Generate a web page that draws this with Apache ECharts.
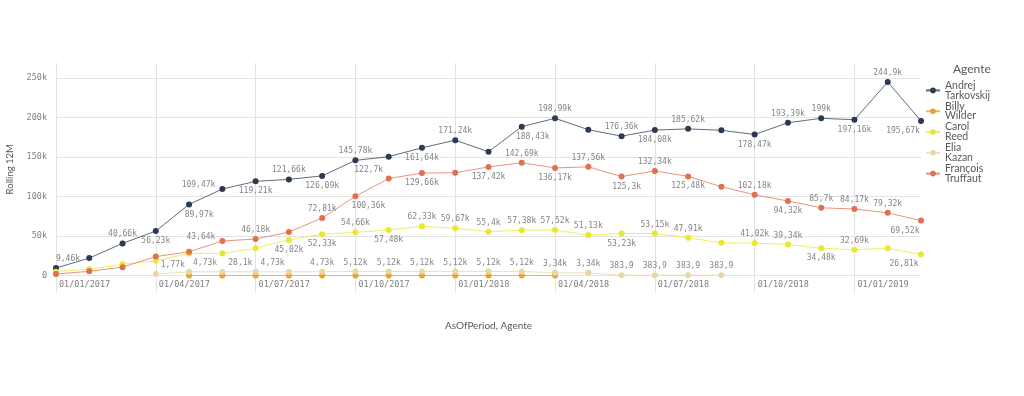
<!DOCTYPE html>
<html>
<head>
<meta charset="utf-8">
<script src="https://cdn.jsdelivr.net/npm/echarts@6/dist/echarts.min.js"></script>
<style>
html,body{margin:0;padding:0;background:#fff;}
#chart{width:1024px;height:396px;}
</style>
</head>
<body>
<div id="chart"></div>
<script>
// ---- data ----
const months = ['01/01/2017','01/02/2017','01/03/2017','01/04/2017','01/05/2017','01/06/2017','01/07/2017','01/08/2017','01/09/2017','01/10/2017','01/11/2017','01/12/2017',
  '01/01/2018','01/02/2018','01/03/2018','01/04/2018','01/05/2018','01/06/2018','01/07/2018','01/08/2018','01/09/2018','01/10/2018','01/11/2018','01/12/2018',
  '01/01/2019','01/02/2019','01/03/2019'];
const seriesNames = ['Andrej Tarkovskij','Billy Wilder','Carol Reed','Elia Kazan','François Truffaut'];
const andrej = [9460,22000,40660,56230,89970,109470,119210,121660,126090,145780,150400,161640,171240,156700,188430,198990,184600,176360,184080,185620,183800,178470,193390,199000,197160,244900,195670];
const billy = [null,null,null,null,0,0,0,0,0,0,0,0,0,0,0,0,null,null,null,null,null,null,null,null,null,null,null];
const carol = [4900,8000,14200,18800,27900,28100,34400,45020,52330,54660,57480,62330,59670,55400,57380,57520,51130,53230,53150,47910,41300,41020,39340,34480,32690,34400,26810];
const elia = [null,null,null,1770,4730,4730,4730,4730,4730,5120,5120,5120,5120,5120,5120,3340,3340,383.9,383.9,383.9,383.9,null,null,null,null,null,null];
const francois = [1900,5300,10600,24000,30000,43640,46180,55000,72810,100360,122700,129660,130100,137420,142690,136170,137560,125300,132340,125480,112400,102180,94320,85700,84170,79320,69520];
const yTicks = [0,50000,100000,150000,200000,250000];

// ---- label placement (style only) ----
const andrejLabels = ['t+12','','t','b','b+10','l','b','t','b','t','','b','t','','b+11','t','','t','b','t','','b','t','t','b','t','b-18'];
const billyLabels = [];
const carolLabels = ['','','','','','b+18','','b','b','t','b','t','t','t','t','t','t','b','t','t','','t','t','b','t','','b-17'];
const eliaLabels = ['','','','t+17','t+16','','t+17','','t','t','t','t','t','t','t','t','t','t','t','t','t','','','','','',''];
const francoisLabels = ['','','','','','l','t','','t','b+13','t-20','b','','b','t','b','t','b+5','t','b','','t','b','t','t','t','b-16'];

const colors = ['#2b3a50','#eba32a','#e9e634','#e8d7a6','#e0704e'];

function fmt(v){
  if (v === null || v === undefined) return '';
  if (Math.abs(v) >= 1000) {
    let s = (Math.round(v/10)/100).toString();
    return s.replace('.', ',') + 'k';
  }
  return v.toString().replace('.', ',');
}
function axisFmt(v){
  if (v === 0) return '0';
  return (v/1000) + 'k';
}
function buildData(values, placements){
  return values.map((v,i)=>{
    const p = placements[i] || '';
    if (!p || v === null) return v;
    const m = p.match(/^([tbl])([+-]\d+)?$/);
    const dx = m[2] ? parseInt(m[2],10) : 0;
    let label;
    if (m[1] === 't') label = {show:true, position:'top', distance:2, offset:[dx,0]};
    else if (m[1] === 'b') label = {show:true, position:'bottom', distance:3, offset:[dx,0]};
    else label = {show:true, position:'left', distance:4, offset:[0,-4]};
    return {value:v, label:label};
  });
}

const allValues = [andrej,billy,carol,elia,francois];
const allLabels = [andrejLabels,billyLabels,carolLabels,eliaLabels,francoisLabels];

const series = seriesNames.map((name,k)=>({
  name:name,
  type:'line',
  data: buildData(allValues[k], allLabels[k]),
  symbol:'circle',
  symbolSize:6,
  showAllSymbol:true,
  connectNulls:false,
  itemStyle:{color:colors[k]},
  lineStyle:{color:colors[k], width:1, opacity:0.75},
  label:{show:false, fontFamily:'DejaVu Sans Mono', fontSize:8, color:'#858585',
         formatter:(p)=>fmt(p.value)},
  emphasis:{disabled:true}
}));

const chart = echarts.init(document.getElementById('chart'), null, {renderer:'canvas'});
chart.setOption({
  animation:false,
  backgroundColor:'#ffffff',
  title:{text:'Agente', left:953, top:63, padding:0,
    textStyle:{fontFamily:'Lato', fontSize:12, fontWeight:'normal', color:'#595959'}},
  legend:{
    orient:'vertical', left:920, top:75, itemGap:0, itemWidth:14, itemHeight:7,
    data:seriesNames,
    formatter:(n)=>n.replace(' ', '\n'),
    textStyle:{fontFamily:'Lato', fontSize:10.5, lineHeight:9.8, color:'#595959'},
    selectedMode:false
  },
  grid:{left:56, right:103, top:63, bottom:120.5, containLabel:false, outerBoundsMode:'none'},
  xAxis:{
    type:'category', data:months, boundaryGap:false,
    name:'AsOfPeriod, Agente', nameLocation:'middle', nameGap:45,
    nameTextStyle:{fontFamily:'Lato', fontSize:10, color:'#595959'},
    axisLine:{show:false},
    axisTick:{show:true, interval:2, length:17, lineStyle:{color:'#e3e3e3'}},
    splitLine:{show:true, interval:2, lineStyle:{color:'#e3e3e3', width:1}},
    axisLabel:{interval:2, align:'left', margin:5, padding:[0,0,0,3],
      fontFamily:'DejaVu Sans Mono', fontSize:8.5, color:'#808080'}
  },
  yAxis:{
    type:'value', min:yTicks[0], max:269000, interval:yTicks[1]-yTicks[0],
    name:'Rolling 12M', nameLocation:'middle', nameGap:41, nameRotate:90,
    nameTextStyle:{fontFamily:'Lato', fontSize:9.5, color:'#595959'},
    axisLine:{show:false}, axisTick:{show:false},
    axisLabel:{margin:9, showMaxLabel:false, formatter:axisFmt,
      fontFamily:'DejaVu Sans Mono', fontSize:8.5, color:'#808080'},
    splitLine:{show:true, showMaxLine:false, lineStyle:{color:'#e3e3e3', width:1}}
  },
  series:series
});
</script>
</body>
</html>
